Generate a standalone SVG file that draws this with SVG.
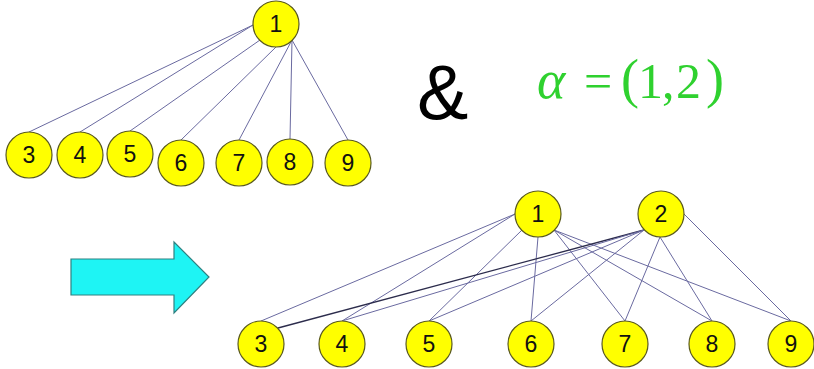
<svg xmlns="http://www.w3.org/2000/svg" width="814" height="369" viewBox="0 0 814 369">
<style>
.n circle{fill:#ffff00;stroke:#5a5a1e;stroke-width:1.2}
.n text{font-family:"Liberation Sans",Arial,sans-serif;font-size:23px;fill:#111;text-anchor:middle}
.e line{stroke:#6a6aa0;stroke-width:1}
.m{font-family:"Liberation Serif","Times New Roman",serif;fill:#2fd12f;font-size:50px}
</style>
<rect width="814" height="369" fill="#ffffff"/>
<g id="connectors-top" class="e">
<line x1="253" y1="25" x2="29" y2="132"/>
<line x1="253" y1="25" x2="80" y2="132"/>
<line x1="260" y1="40" x2="130" y2="131"/>
<line x1="276" y1="47" x2="181" y2="140"/>
<line x1="292" y1="40" x2="239" y2="140"/>
<line x1="292" y1="40" x2="290" y2="139"/>
<line x1="292" y1="40" x2="348" y2="140"/>
</g>
<g id="connectors-bottom" class="e">
<line x1="515" y1="214" x2="261" y2="321"/>
<line x1="515" y1="214" x2="342" y2="321"/>
<line x1="522" y1="230" x2="429" y2="321"/>
<line x1="538" y1="237" x2="531" y2="321"/>
<line x1="554" y1="230" x2="625" y2="321"/>
<line x1="554" y1="230" x2="712" y2="321"/>
<line x1="554" y1="230" x2="791" y2="321"/>
<line x1="644" y1="230" x2="278" y2="328" style="stroke:#2c2c4c;stroke-width:1.3"/>
<line x1="644" y1="230" x2="342" y2="321"/>
<line x1="644" y1="230" x2="429" y2="321"/>
<line x1="644" y1="230" x2="531" y2="321"/>
<line x1="660" y1="237" x2="625" y2="321"/>
<line x1="660" y1="237" x2="712" y2="321"/>
<line x1="684" y1="214" x2="791" y2="321"/>
</g>
<g id="t1" class="n"><circle cx="276" cy="24" r="23"/><text x="276" y="32">1</text></g>
<g id="t3" class="n"><circle cx="29" cy="155" r="23"/><text x="29" y="163">3</text></g>
<g id="t4" class="n"><circle cx="80" cy="155" r="23"/><text x="80" y="163">4</text></g>
<g id="t5" class="n"><circle cx="130" cy="154" r="23"/><text x="130" y="162">5</text></g>
<g id="t6" class="n"><circle cx="181" cy="163" r="23"/><text x="181" y="171">6</text></g>
<g id="t7" class="n"><circle cx="239" cy="163" r="23"/><text x="239" y="171">7</text></g>
<g id="t8" class="n"><circle cx="290" cy="162" r="23"/><text x="290" y="170">8</text></g>
<g id="t9" class="n"><circle cx="348" cy="163" r="23"/><text x="348" y="171">9</text></g>
<g id="b1" class="n"><circle cx="538" cy="214" r="23"/><text x="538" y="222">1</text></g>
<g id="b2" class="n"><circle cx="661" cy="214" r="23"/><text x="661" y="222">2</text></g>
<g id="b3" class="n"><circle cx="261" cy="344" r="23"/><text x="261" y="352">3</text></g>
<g id="b4" class="n"><circle cx="342" cy="344" r="23"/><text x="342" y="352">4</text></g>
<g id="b5" class="n"><circle cx="429" cy="344" r="23"/><text x="429" y="352">5</text></g>
<g id="b6" class="n"><circle cx="531" cy="344" r="23"/><text x="531" y="352">6</text></g>
<g id="b7" class="n"><circle cx="625" cy="344" r="23"/><text x="625" y="352">7</text></g>
<g id="b8" class="n"><circle cx="712" cy="344" r="23"/><text x="712" y="352">8</text></g>
<g id="b9" class="n"><circle cx="791" cy="344" r="23"/><text x="791" y="352">9</text></g>
<g id="arrow"><polygon points="71,259 174,259 174,242 209,277 174,313 174,295 71,295" fill="#1ef4f4" stroke="#2f8080" stroke-width="1.2"/></g>
<g id="amp"><text x="417" y="119" font-family="'Liberation Sans',Arial,sans-serif" font-size="77" fill="#000">&amp;</text></g>
<g id="formula">
<text class="m" y="98"><tspan x="537" font-style="italic" font-size="54">α</tspan><tspan x="584">=</tspan><tspan x="621" font-size="54" dy="-1">(</tspan><tspan x="638" dy="1">1</tspan><tspan x="662">,</tspan><tspan x="676">2</tspan><tspan x="706" font-size="54" dy="-1">)</tspan></text>
</g>
</svg>
